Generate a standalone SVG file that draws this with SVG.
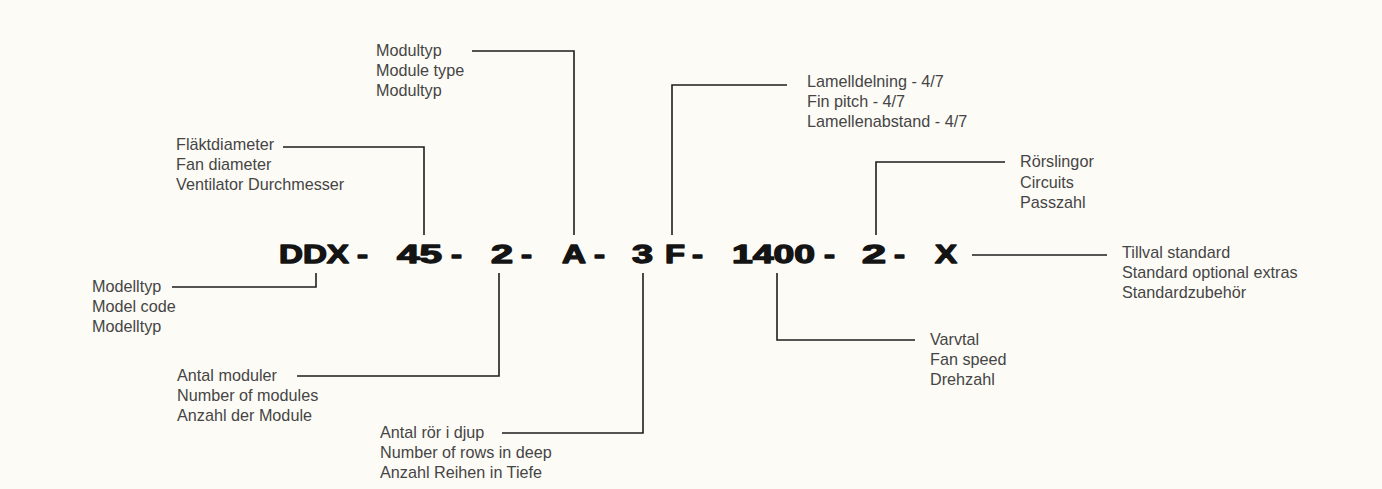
<svg xmlns="http://www.w3.org/2000/svg" width="1382" height="489" viewBox="0 0 1382 489">
<style>
.lbl{font-family:"Liberation Sans",Arial,sans-serif;font-size:16.2px;fill:#454545}
.code{font-family:"Liberation Sans",Arial,sans-serif;font-size:25px;font-weight:bold;fill:#141414;stroke:#141414;stroke-width:1.3;stroke-linejoin:round}
.ln{fill:none;stroke:#1e1e1e;stroke-width:1.6}
</style>
<rect width="1382" height="489" fill="#fdfbf6"/>
<g id="code">
<text class="code" x="279" y="263" textLength="70" lengthAdjust="spacingAndGlyphs">DDX</text>
<text class="code" x="357" y="263" textLength="11" lengthAdjust="spacingAndGlyphs">-</text>
<text class="code" x="397" y="263" textLength="45" lengthAdjust="spacingAndGlyphs">45</text>
<text class="code" x="451" y="263" textLength="11" lengthAdjust="spacingAndGlyphs">-</text>
<text class="code" x="491" y="263" textLength="22" lengthAdjust="spacingAndGlyphs">2</text>
<text class="code" x="521" y="263" textLength="11" lengthAdjust="spacingAndGlyphs">-</text>
<text class="code" x="562" y="263" textLength="24" lengthAdjust="spacingAndGlyphs">A</text>
<text class="code" x="594" y="263" textLength="11" lengthAdjust="spacingAndGlyphs">-</text>
<text class="code" x="632" y="263" textLength="21" lengthAdjust="spacingAndGlyphs">3</text>
<text class="code" x="665" y="263" textLength="20" lengthAdjust="spacingAndGlyphs">F</text>
<text class="code" x="692" y="263" textLength="11" lengthAdjust="spacingAndGlyphs">-</text>
<text class="code" x="732" y="263" textLength="83" lengthAdjust="spacingAndGlyphs">1400</text>
<text class="code" x="824" y="263" textLength="11" lengthAdjust="spacingAndGlyphs">-</text>
<text class="code" x="862" y="263" textLength="24" lengthAdjust="spacingAndGlyphs">2</text>
<text class="code" x="894" y="263" textLength="11" lengthAdjust="spacingAndGlyphs">-</text>
<text class="code" x="935" y="263" textLength="22" lengthAdjust="spacingAndGlyphs">X</text>
</g>
<g id="connectors">
<path class="ln" d="M283,147 H424 V235"/>
<path class="ln" d="M472,51 H574 V235"/>
<path class="ln" d="M672,235 V85 H787"/>
<path class="ln" d="M876,235 V162 H1005"/>
<path class="ln" d="M972,255 H1107"/>
<path class="ln" d="M777,273 V340 H915"/>
<path class="ln" d="M316,273 V287 H172"/>
<path class="ln" d="M499,273 V376 H297"/>
<path class="ln" d="M643,273 V433 H502"/>
</g>
<g id="fan-diameter">
<text class="lbl" x="176" y="150">Fläktdiameter</text>
<text class="lbl" x="176" y="170">Fan diameter</text>
<text class="lbl" x="176" y="190">Ventilator Durchmesser</text>
</g>
<g id="module-type">
<text class="lbl" x="376" y="56">Modultyp</text>
<text class="lbl" x="376" y="76">Module type</text>
<text class="lbl" x="376" y="96">Modultyp</text>
</g>
<g id="fin-pitch">
<text class="lbl" x="807" y="87">Lamelldelning - 4/7</text>
<text class="lbl" x="807" y="107">Fin pitch - 4/7</text>
<text class="lbl" x="807" y="127">Lamellenabstand - 4/7</text>
</g>
<g id="circuits">
<text class="lbl" x="1020" y="167">Rörslingor</text>
<text class="lbl" x="1020" y="188">Circuits</text>
<text class="lbl" x="1020" y="208">Passzahl</text>
</g>
<g id="options">
<text class="lbl" x="1122" y="258">Tillval standard</text>
<text class="lbl" x="1122" y="278">Standard optional extras</text>
<text class="lbl" x="1122" y="298">Standardzubehör</text>
</g>
<g id="fan-speed">
<text class="lbl" x="930" y="345">Varvtal</text>
<text class="lbl" x="930" y="365">Fan speed</text>
<text class="lbl" x="930" y="385">Drehzahl</text>
</g>
<g id="model-code">
<text class="lbl" x="92" y="292">Modelltyp</text>
<text class="lbl" x="92" y="312">Model code</text>
<text class="lbl" x="92" y="332">Modelltyp</text>
</g>
<g id="modules">
<text class="lbl" x="177" y="381">Antal moduler</text>
<text class="lbl" x="177" y="401">Number of modules</text>
<text class="lbl" x="177" y="421">Anzahl der Module</text>
</g>
<g id="rows">
<text class="lbl" x="380" y="438">Antal rör i djup</text>
<text class="lbl" x="380" y="458">Number of rows in deep</text>
<text class="lbl" x="380" y="478">Anzahl Reihen in Tiefe</text>
</g>
</svg>
